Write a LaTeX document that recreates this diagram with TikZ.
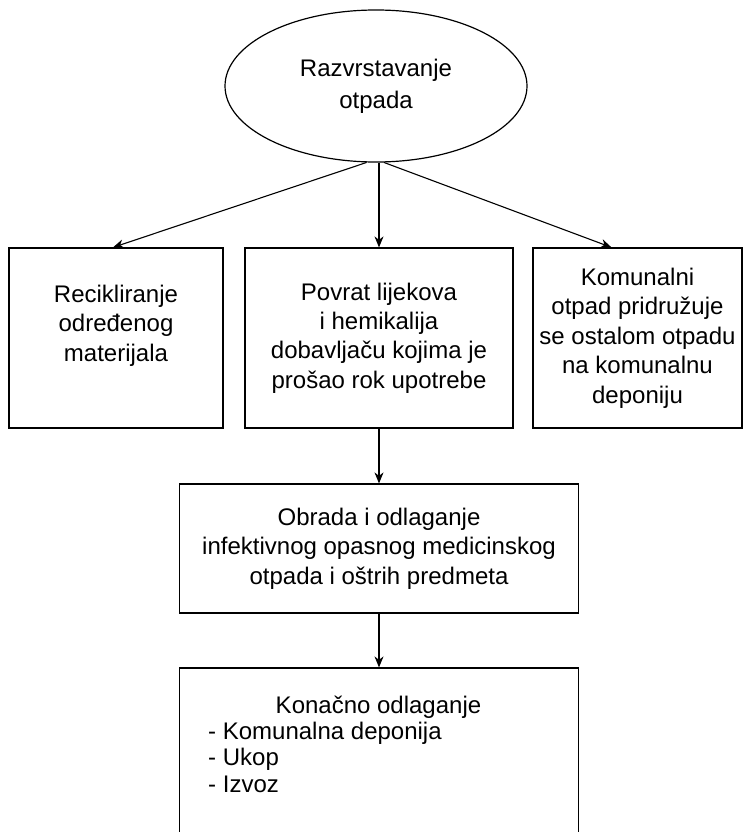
\documentclass[tikz,border=0pt]{standalone}
\usepackage{fontspec}
\setmainfont{Liberation Sans}
\usepackage{tikz}
\usetikzlibrary{shapes.geometric,arrows.meta}

\begin{document}
\begin{tikzpicture}[x=1pt,y=-1pt,
    box/.style={draw,line width=1.2pt,rectangle,align=center,inner sep=0pt,font=\fontsize{24}{29.4}\selectfont},
    arr/.style={line width=1.1pt,-{Stealth[length=11pt,width=9pt,inset=3.5pt]}}]
    \useasboundingbox (0,0) rectangle (743,832);
    \node [draw,line width=1.2pt,ellipse,minimum width=302,minimum height=152,inner sep=0pt,align=center,font=\fontsize{24}{32}\selectfont] (sort) at (376,86) {Razvrstavanje\\otpada};
    \node [box,minimum width=214,minimum height=180] (recycle) at (116,338) {Recikliranje\\određenog\\materijala\\\mbox{}};
    \node [box,minimum width=268,minimum height=180] (returns) at (379,338) {Povrat lijekova\\i hemikalija\\dobavljaču kojima je\\prošao rok upotrebe};
    \node [box,minimum width=209,minimum height=180] (communal) at (637.5,338) {Komunalni\\otpad pridružuje\\se ostalom otpadu\\na komunalnu\\deponiju};
    \node [box,minimum width=399,minimum height=129] (treatment) at (379,548.5) {Obrada i odlaganje\\infektivnog opasnog medicinskog\\otpada i oštrih predmeta};
    \node [box,minimum width=399,minimum height=176] (final) at (379,756) {};
    \node [anchor=base,inner sep=0pt,font=\fontsize{24}{29}\selectfont] (finalhead) at (378.5,713) {Konačno odlaganje};
    \node [anchor=base west,inner sep=0pt,align=left,font=\fontsize{24}{26.5}\selectfont] (finallist) at (208,792) {- Komunalna deponija\\- Ukop\\- Izvoz};
    \draw [arr] (sort.263) -- ([xshift=-3pt]recycle.north);
    \draw [arr] (sort.south -| returns.north) -- (returns.north);
    \draw [arr] (sort.276) -- ([xshift=-26pt]communal.north);
    \draw [arr] (returns.south) -- (returns.south |- treatment.north);
    \draw [arr] (treatment.south) -- (final.north);
\end{tikzpicture}
\end{document}
